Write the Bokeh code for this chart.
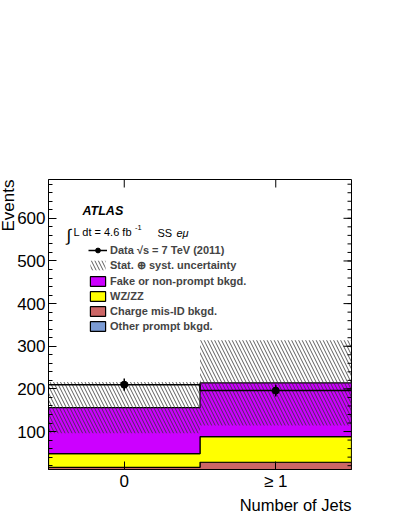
import numpy as np
from bokeh.plotting import figure
from bokeh.models import Range1d, FixedTicker, Label, Legend, LegendItem, Title
from bokeh.embed import file_html
from bokeh.resources import INLINE

# ---- data ----
categories = ["0", "\u2265 1"]
other_prompt = [3, 6]
charge_misid = [13, 22]
wz_zz = [32, 60]
fake = [108, 126]
syst_unc = [60, 100]
data = [210, 196]
data_err = [14.5, 14.0]
y_ticks = [100, 200, 300, 400, 500, 600]
y_minor = list(range(20, 700, 20))
y_lo, y_hi = 11, 691

FONT = "Liberation Sans"

edges = np.arange(len(categories) + 1, dtype=float)
centers = edges[:-1] + 0.5

p = figure(width=399, height=516, output_backend="svg", toolbar_location=None,
           x_range=Range1d(edges[0], edges[-1]), y_range=Range1d(y_lo, y_hi),
           min_border_left=48, min_border_right=48, min_border_top=179,
           min_border_bottom=47)
p.grid.visible = False
p.outline_line_color = "black"
p.outline_line_width = 1
p.background_fill_color = "white"
p.border_fill_color = "white"


def style_axis(ax):
    ax.axis_line_color = "black"
    ax.major_tick_in = 8
    ax.major_tick_out = 0
    ax.minor_tick_in = 4
    ax.minor_tick_out = 0
    ax.major_tick_line_color = "black"
    ax.minor_tick_line_color = "black"
    ax.major_label_text_font = FONT
    ax.major_label_text_font_size = "17px"
    ax.major_label_text_color = "black"
    ax.major_label_standoff = 3


yt = FixedTicker(ticks=y_ticks, minor_ticks=y_minor)
xt = FixedTicker(ticks=list(centers))
p.yaxis.ticker = yt
p.xaxis.ticker = xt
p.xaxis.major_label_overrides = {float(c): lab for c, lab in zip(centers, categories)}
for ax in p.yaxis:
    style_axis(ax)
for ax in p.xaxis:
    style_axis(ax)
    ax.major_label_standoff = 2

# axis titles
p.add_layout(Title(text="Number of Jets", align="right", text_font=FONT,
                   text_font_size="16.5px", text_font_style="normal",
                   text_color="black", standoff=0), "below")
p.add_layout(Title(text="Events", align="right", text_font=FONT,
                   text_font_size="17px", text_font_style="normal",
                   text_color="black", standoff=-7), "left")


def step_poly(lo, hi):
    """Outline of a step-shaped band between lo and hi over the bins."""
    xs, ys_top, ys_bot = [], [], []
    for i in range(len(lo)):
        xs += [edges[i], edges[i + 1]]
        ys_top += [hi[i], hi[i]]
        ys_bot += [lo[i], lo[i]]
    return xs + xs[::-1], ys_top + ys_bot[::-1]


# ---- stacked backgrounds ----
layers = [
    (other_prompt, "#7B9BD4", "Other prompt bkgd."),
    (charge_misid, "#CC6666", "Charge mis-ID bkgd."),
    (wz_zz, "#FFFF00", "WZ/ZZ"),
    (fake, "#CC00FF", "Fake or non-prompt bkgd."),
]
bottom = np.zeros(len(categories))
layer_r = {}
for vals, col, lab in layers:
    top = bottom + np.array(vals, dtype=float)
    xs, ys = step_poly(bottom, top)
    layer_r[lab] = p.patch(x=xs, y=ys, fill_color=col, line_color="black",
                           line_width=1.2)
    bottom = top
total = bottom

# uncertainty band
unc = np.array(syst_unc, dtype=float)
xs, ys = step_poly(total - unc, total + unc)
band = p.patch(x=xs, y=ys, fill_alpha=0, line_alpha=0, hatch_pattern="\\",
               hatch_color="#333333", hatch_scale=7, hatch_weight=0.8)

# mirrored ticks on the right and top frame edges
p.ray(x=edges[-1], y=y_ticks, length=8, length_units="screen", angle=np.pi,
      line_color="black", line_width=1)
p.ray(x=edges[-1], y=y_minor, length=4, length_units="screen", angle=np.pi,
      line_color="black", line_width=1)
p.ray(x=centers, y=y_hi, length=8, length_units="screen", angle=-np.pi / 2,
      line_color="black", line_width=1)

# data
d = np.array(data, dtype=float)
e = np.array(data_err, dtype=float)
data_line = p.step(x=edges, y=list(d) + [d[-1]], mode="after", line_color="black",
                   line_width=1.5)
p.segment(x0=centers, y0=d - e, x1=centers, y1=d + e, line_color="black",
          line_width=1.5)
data_pts = p.scatter(x=centers, y=d, size=7, color="black")

# ---- legend ----
items = [LegendItem(label="Data \u221as = 7 TeV (2011)", renderers=[data_line, data_pts]),
         LegendItem(label="Stat. \u2295 syst. uncertainty", renderers=[band])]
for vals, col, lab in reversed(layers):
    items.append(LegendItem(label=lab, renderers=[layer_r[lab]]))

legend = Legend(items=items, location=(40, 137.5), orientation="vertical",
                glyph_width=19, glyph_height=12, label_height=12, spacing=3,
                padding=0, margin=0, label_standoff=3,
                border_line_alpha=0, background_fill_alpha=0,
                label_text_font=FONT, label_text_font_style="bold",
                label_text_font_size="11px")
p.add_layout(legend)


def lab(x, y, text, size, style="normal", align="left", baseline="middle"):
    p.add_layout(Label(x=x, y=y, x_units="screen", y_units="screen", text=text,
                       text_font=FONT, text_font_size=size, text_font_style=style,
                       text_align=align, text_baseline=baseline,
                       text_color="black"))


lab(34, 258.3, "ATLAS", "12.5px", style="bold italic")
lab(18, 234, "\u222b", "17px")
lab(25, 237.3, "L dt = 4.6 fb", "11px")
lab(86.5, 242.5, "-1", "7.5px")
lab(109, 237, "SS", "11px")
lab(128, 237, "e\u03bc", "11px", style="italic")

open("out.html", "w").write(file_html(p, INLINE))
